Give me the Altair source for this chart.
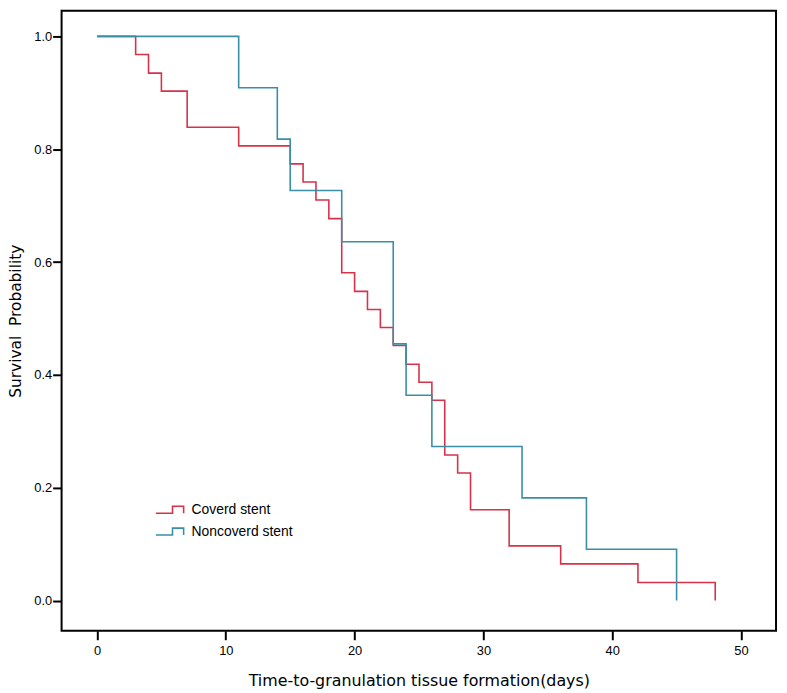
import altair as alt
import pandas as pd

# Covered stent (Kaplan-Meier, n = 31)
cov_time = [0, 3, 4, 5, 7, 11, 15, 16, 17, 18, 19, 20, 21, 22, 23, 24, 25, 26, 27, 28, 29, 32, 36, 42, 48]
cov_surv = [1.0, 0.968, 0.935, 0.903, 0.839, 0.806, 0.774, 0.742, 0.710, 0.677, 0.581, 0.548, 0.516,
            0.484, 0.452, 0.419, 0.387, 0.355, 0.258, 0.226, 0.161, 0.097, 0.065, 0.032, 0.0]

# Noncovered stent (Kaplan-Meier, n = 11)
non_time = [0, 11, 14, 15, 19, 23, 24, 26, 33, 38, 45]
non_surv = [1.0, 0.909, 0.818, 0.727, 0.636, 0.455, 0.364, 0.273, 0.182, 0.091, 0.0]

groups = ["Coverd stent", "Noncoverd stent"]
colors = ["#d8324a", "#3a8fa6"]

x_ticks = [0, 10, 20, 30, 40, 50]
y_ticks = [0.0, 0.2, 0.4, 0.6, 0.8, 1.0]

df = pd.concat([
    pd.DataFrame({"time": cov_time, "surv": cov_surv, "group": groups[0], "ord": 0}),
    pd.DataFrame({"time": non_time, "surv": non_surv, "group": groups[1], "ord": 1}),
])

lab_font = "Liberation Sans"

x = alt.X("time:Q",
          scale=alt.Scale(domain=[-2.75, 52.72], nice=False, zero=False),
          axis=alt.Axis(values=x_ticks, title="Time-to-granulation tissue formation(days)",
                        domain=False, grid=False, tickSize=9, tickWidth=2, tickColor="black",
                        labelFont=lab_font, labelFontSize=13, labelColor="black", labelPadding=5,
                        titleFont="DejaVu Sans", titleFontSize=16, titleFontWeight="normal",
                        titleColor="black", titlePadding=15))
y = alt.Y("surv:Q",
          scale=alt.Scale(domain=[-0.0536, 1.0457], nice=False, zero=False),
          axis=alt.Axis(values=y_ticks, format=".1f", title="Survival\u00a0 Probability",
                        domain=False, grid=False, tickSize=9, tickWidth=2, tickColor="black",
                        labelFont=lab_font, labelFontSize=13, labelColor="black", labelPadding=1,
                        titleFont="DejaVu Sans", titleFontSize=15.5, titleFontWeight="normal",
                        titleColor="black", titlePadding=10))

color = alt.Color("group:N",
                  scale=alt.Scale(domain=groups, range=colors),
                  legend=alt.Legend(title=None, orient="none", legendX=94, legendY=488,
                                    symbolType="M-1,0.25L0.2,0.25L0.2,-0.25L1,-0.25L1,0.25",
                                    symbolSize=784, symbolStrokeWidth=1.6,
                                    symbolFillColor="transparent",
                                    labelFont="Liberation Sans", labelFontSize=14,
                                    labelColor="black", labelOffset=7, rowPadding=-4))

lines = alt.Chart(df).mark_line(interpolate="step-after", strokeWidth=1.6).encode(
    x=x, y=y, color=color, order=alt.Order("ord:Q"), detail="group:N"
)

chart = alt.layer(lines).properties(
    width=720, height=625,
    padding={"left": 54, "top": 0, "right": 3, "bottom": 57},
    autosize="none",
    background="white",
).configure_view(stroke="black", strokeWidth=2)

chart.save("out.html", embed_options={"renderer": "svg", "actions": False})
